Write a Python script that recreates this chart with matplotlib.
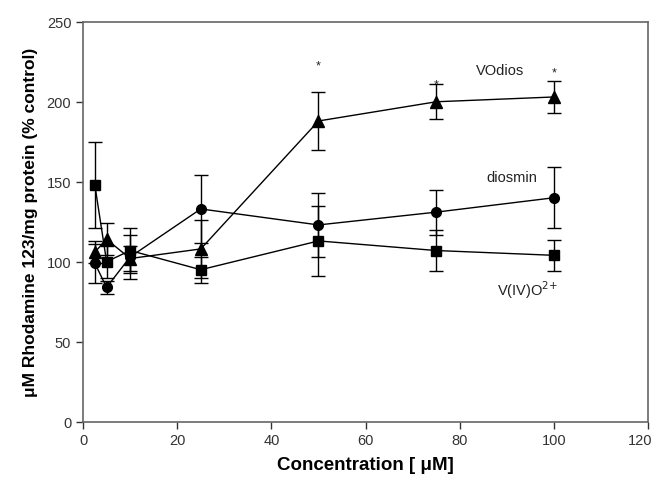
import matplotlib
matplotlib.use("Agg")
import matplotlib.pyplot as plt
import matplotlib.transforms as mtransforms

plt.rcParams['font.family'] = ['Liberation Sans', 'DejaVu Sans']

conc = [2.5, 5, 10, 25, 50, 75, 100]

vodios = [106, 114, 102, 108, 188, 200, 203]
vodios_err = [7, 10, 8, 18, 18, 11, 10]

diosmin = [99, 84, 103, 133, 123, 131, 140]
diosmin_err = [12, 4, 14, 21, 20, 14, 19]

vo = [148, 100, 107, 95, 113, 107, 104]
vo_err = [27, 10, 14, 8, 22, 13, 9.5]

series_labels = ["VOdios", "diosmin", "V(IV)O$^{2{+}}$"]
label_pos = [(88.6, 220), (91.1, 153), (94.3, 83)]
star_x = [50, 75, 100]
star_y = [223, 211, 218.5]

fig = plt.figure(figsize=(6.54, 4.85), dpi=100)
ax = fig.add_axes([0.127, 0.1285, 0.864, 0.8245])

common = dict(color='black', ecolor='black', elinewidth=1.0, capsize=5,
              capthick=1.0, linewidth=1.0)
ax.errorbar(conc, vo, yerr=vo_err, marker='s', markersize=7, **common)
ax.errorbar(conc, diosmin, yerr=diosmin_err, marker='o', markersize=7, **common)
ax.errorbar(conc, vodios, yerr=vodios_err, marker='^', markersize=8, **common)

for lab, (x, y) in zip(series_labels, label_pos):
    ax.text(x, y, lab, ha='center', va='center', fontsize=10.5, color='#222222')
for x, y in zip(star_x, star_y):
    ax.text(x, y, '*', ha='center', va='center', fontsize=9, color='#222222')

ax.set_xlim(0, 120)
ax.set_ylim(0, 250)
ax.set_xticks(range(0, 121, 20))
ax.set_yticks(range(0, 251, 50))
ax.tick_params(direction='out', length=5, width=1, labelsize=10.5,
               colors='#333333')
for s in ax.spines.values():
    s.set_color('#666666')
    s.set_linewidth(1.2)

ax.set_xlabel('Concentration [ μM]', fontsize=13.5, fontweight='bold', labelpad=6)
ax.set_ylabel('μM Rhodamine 123/mg protein (% control)', fontsize=12.5,
              fontweight='bold', labelpad=6)

fig.canvas.draw()
last = ax.get_xticklabels()[-1]
last.set_horizontalalignment('right')
last.set_transform(last.get_transform() +
                   mtransforms.ScaledTranslation(3 / 72, 0, fig.dpi_scale_trans))

fig.savefig('out.png', dpi=100)
